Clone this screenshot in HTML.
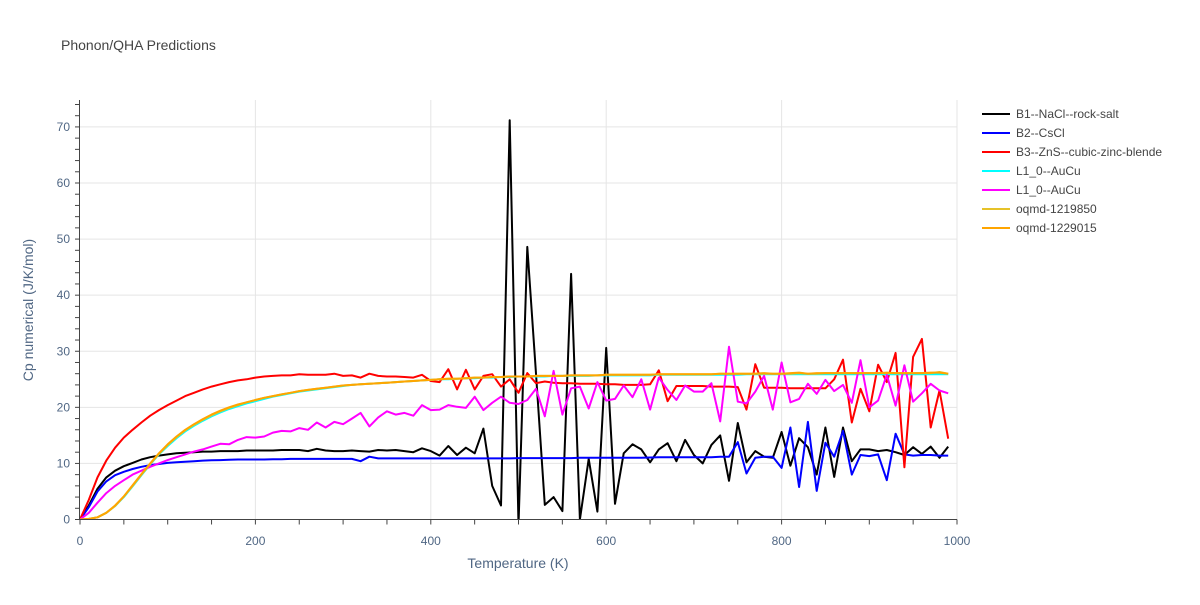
<!DOCTYPE html>
<html><head><meta charset="utf-8"><style>
body{margin:0;background:#fff;font-family:"Liberation Sans",Arial,sans-serif}
svg text{font-family:"Liberation Sans",Arial,sans-serif}
</style></head><body>
<svg id="chart" width="1200" height="600" xmlns="http://www.w3.org/2000/svg">
<rect width="1200" height="600" fill="#fff"/>
<text x="61" y="50" font-size="14" fill="#444">Phonon/QHA Predictions</text>
<g id="grid"></g>
<g id="series"></g>
<g id="axes"></g>
<text x="518" y="568" font-size="14" fill="#506784" text-anchor="middle">Temperature (K)</text>
<text transform="translate(33,310) rotate(-90)" font-size="14" fill="#506784" text-anchor="middle">Cp numerical (J/K/mol)</text>
<g id="legend"></g>
</svg>
<script>
const temps = [];
for (let t = 0; t <= 990; t += 10) temps.push(t);
const seriesNames = ["B1--NaCl--rock-salt","B2--CsCl","B3--ZnS--cubic-zinc-blende","L1_0--AuCu","L1_0--AuCu","oqmd-1219850","oqmd-1229015"];
const seriesColors = ["#000000","#0000ff","#ff0000","#00ffff","#ff00ff","#e6c229","#ffa500"];
const b1 = [0,2.5,5.5,7.5,8.7,9.5,10.1,10.7,11.1,11.4,11.6,11.8,11.9,12.0,12.1,12.1,12.2,12.2,12.2,12.3,12.3,12.3,12.3,12.4,12.4,12.4,12.2,12.6,12.3,12.2,12.2,12.3,12.2,12.1,12.4,12.3,12.4,12.2,12.0,12.7,12.2,11.4,13.1,11.5,12.8,11.8,16.2,6.0,2.5,71.2,-1,48.6,26,2.6,4.0,1.5,43.8,0.0,10.8,1.4,30.6,2.8,11.8,13.4,12.5,10.2,12.5,13.6,10.4,14.2,11.5,10.0,13.3,15.0,6.9,17.2,10.2,12.2,11.2,11.0,15.6,9.6,14.5,12.9,8.0,16.4,7.6,16.4,10.4,12.5,12.5,12.2,12.4,12.0,11.5,12.9,11.7,13.0,11.0,13.0];
const b2 = [0,2.2,5.0,6.8,7.9,8.5,9.0,9.4,9.7,9.9,10.1,10.2,10.3,10.4,10.5,10.55,10.6,10.65,10.7,10.7,10.7,10.7,10.75,10.75,10.8,10.8,10.8,10.8,10.8,10.8,10.8,10.8,10.4,11.2,10.9,10.9,10.9,10.9,10.9,10.9,10.9,10.9,10.9,10.9,10.9,10.9,10.9,10.9,10.9,10.9,10.95,10.95,10.95,10.95,10.95,10.95,10.95,11.0,11.0,11.0,11.0,11.0,11.0,11.0,11.0,11.05,11.1,11.1,11.1,11.1,11.1,11.1,11.1,11.2,11.2,13.8,8.2,11.0,11.2,11.2,9.2,16.4,5.8,17.4,5.1,13.7,11.2,15.8,8.0,11.5,11.3,11.6,7.0,15.3,11.6,11.4,11.5,11.5,11.4,11.4];
const b3 = [0,3.5,7.5,10.5,12.8,14.6,16.0,17.3,18.5,19.5,20.4,21.2,22.0,22.6,23.2,23.7,24.1,24.5,24.8,25.0,25.3,25.5,25.6,25.7,25.7,25.9,25.8,25.8,25.8,26.0,25.6,25.7,25.3,26.0,25.6,25.5,25.5,25.4,25.3,25.8,24.7,24.5,26.8,23.2,26.7,23.2,25.6,25.9,23.7,25.0,22.6,26.1,24.3,24.6,24.4,24.3,24.3,24.2,24.2,24.2,24.1,24.1,24.0,24.0,24.0,24.1,26.6,21.1,23.8,23.8,23.8,23.8,23.7,23.7,23.7,23.6,19.6,27.7,23.5,23.5,23.5,23.4,23.4,23.4,23.4,23.4,25.0,28.5,17.3,23.3,19.3,27.6,24.5,29.7,9.3,29.0,32.2,16.4,23.0,14.4];
const l10a = [0,0.1,0.4,1.2,2.4,4.0,5.9,7.9,9.8,11.6,13.1,14.5,15.7,16.7,17.6,18.4,19.1,19.7,20.2,20.7,21.1,21.5,21.9,22.2,22.5,22.8,23.0,23.2,23.4,23.6,23.8,24.0,24.1,24.2,24.3,24.4,24.5,24.6,24.7,24.8,24.9,25.0,25.0,25.1,25.2,25.2,25.3,25.3,25.4,25.4,25.5,25.5,25.5,25.5,25.6,25.6,25.6,25.6,25.6,25.7,25.7,25.7,25.7,25.7,25.7,25.7,25.8,25.8,25.8,25.8,25.8,25.8,25.8,25.8,25.8,25.8,25.9,25.9,25.9,25.9,25.9,25.9,25.9,25.9,25.9,25.9,25.9,25.9,25.9,25.9,25.9,25.9,25.9,25.9,25.9,25.9,25.9,25.9,25.9,25.9];
const l10b = [0,1.2,3.0,4.7,6.0,7.0,8.0,8.7,9.4,10.0,10.6,11.1,11.6,12.1,12.5,13.0,13.5,13.4,14.2,14.7,14.6,14.8,15.5,15.8,15.7,16.3,16.0,17.3,16.4,17.4,17.0,18.0,19.0,16.6,18.2,19.3,18.7,19.0,18.5,20.4,19.5,19.6,20.4,20.1,19.9,21.9,19.5,20.8,21.9,20.8,20.6,21.3,23.3,18.4,26.5,18.7,23.4,23.7,19.8,24.5,21.2,21.5,23.9,21.8,25.0,19.6,25.3,23.1,21.3,23.9,22.8,22.8,24.3,17.5,30.8,21.0,20.7,22.8,25.6,19.6,28.0,20.9,21.5,24.2,22.4,24.9,22.9,24.0,20.8,28.4,20.0,21.2,25.8,20.3,27.5,21.0,22.5,24.2,23.0,22.5];
const oq1 = [0,0.1,0.4,1.2,2.4,4.1,6.0,8.0,9.9,11.7,13.3,14.7,15.9,16.9,17.8,18.6,19.3,19.9,20.4,20.9,21.3,21.7,22.0,22.3,22.6,22.9,23.1,23.3,23.5,23.7,23.9,24.0,24.1,24.2,24.3,24.4,24.5,24.6,24.7,24.8,24.9,25.0,25.1,25.1,25.2,25.3,25.3,25.4,25.4,25.5,25.5,25.5,25.6,25.6,25.6,25.6,25.7,25.7,25.7,25.7,25.8,25.8,25.8,25.8,25.8,25.8,25.9,25.9,25.9,25.9,25.9,25.9,25.9,26.0,26.0,26.0,26.0,26.0,26.0,26.0,26.0,26.0,26.1,26.0,26.0,26.1,26.1,26.1,26.1,26.1,26.1,26.1,26.1,26.1,26.1,26.1,26.1,26.1,26.3,26.0];
const oq2 = [0,0.1,0.4,1.2,2.5,4.1,6.1,8.1,10.0,11.8,13.4,14.8,16.0,17.0,17.9,18.7,19.4,20.0,20.5,20.9,21.3,21.7,22.0,22.3,22.6,22.9,23.1,23.3,23.5,23.7,23.9,24.0,24.1,24.2,24.3,24.4,24.5,24.6,24.7,24.8,24.9,25.0,25.1,25.1,25.2,25.3,25.3,25.4,25.4,25.5,25.5,25.5,25.6,25.6,25.6,25.6,25.7,25.7,25.7,25.7,25.8,25.8,25.8,25.8,25.8,25.8,25.9,25.9,25.9,25.9,25.9,25.9,25.9,26.0,26.0,26.0,26.0,26.0,26.1,26.0,26.0,26.1,26.2,26.0,26.1,26.1,26.1,26.1,26.1,26.1,26.1,26.1,26.2,26.1,26.1,26.1,26.1,26.2,26.2,26.0];
const allSeries = [b1,b2,b3,l10a,l10b,oq1,oq2];
const xTicks = [0,200,400,600,800,1000];
const yTicks = [0,10,20,30,40,50,60,70];

const X0=80,X1=957,Y0=519.5,YTOP=100,YMAX=74.8;
const xs = v => X0 + (v/1000)*(X1-X0);
const ys = v => Y0 - (v/YMAX)*(Y0-YTOP);
const NS="http://www.w3.org/2000/svg";
function mk(tag, attrs, parent){const e=document.createElementNS(NS,tag);for(const k in attrs)e.setAttribute(k,attrs[k]);parent.appendChild(e);return e;}
const grid=document.getElementById('grid'), axes=document.getElementById('axes'), ser=document.getElementById('series'), leg=document.getElementById('legend');

xTicks.forEach(t=>{
  if(t>0){const g=mk('line',{x1:xs(t),x2:xs(t),y1:YTOP,y2:Y0,stroke:'#e5e5e5','stroke-width':1},grid);
  
  }
  const tx=mk('text',{x:xs(t),y:545,'font-size':12,fill:'#506784','text-anchor':'middle'},axes);
  tx.textContent=t;
  
  
});
yTicks.forEach(t=>{
  if(t>0){const g=mk('line',{x1:X0,x2:X1,y1:ys(t),y2:ys(t),stroke:'#e5e5e5','stroke-width':1},grid);
  
  }
  const tx=mk('text',{x:70,y:ys(t)+4,'font-size':12,fill:'#506784','text-anchor':'end'},axes);
  tx.textContent=t;
  
  
});
for(let t=0;t<=1000;t+=50){mk('line',{x1:xs(t),x2:xs(t),y1:Y0,y2:Y0+5,stroke:'#444','stroke-width':1},axes);}
for(let v=0;v<=74;v+=2){mk('line',{x1:X0-5,x2:X0,y1:ys(v),y2:ys(v),stroke:'#444','stroke-width':1},axes);}
const xa=mk('line',{x1:X0,x2:X1,y1:Y0,y2:Y0,stroke:'#444','stroke-width':1},axes);


const ya=mk('line',{x1:X0-0.5,x2:X0-0.5,y1:YTOP,y2:Y0,stroke:'#444','stroke-width':1},axes);



const clip=mk('clipPath',{id:'pc'},ser);
mk('rect',{x:X0,y:YTOP,width:X1-X0,height:Y0-YTOP},clip);
allSeries.forEach((arr,i)=>{
  const d=arr.map((v,j)=>(j?'L':'M')+xs(temps[j]).toFixed(1)+','+ys(v).toFixed(1)).join(' ');
  const p=mk('path',{d:d,fill:'none',stroke:seriesColors[i],'stroke-width':2,'clip-path':'url(#pc)','stroke-linejoin':'round'},ser);
  
  
});
seriesNames.forEach((n,i)=>{
  const y=114+i*19;
  const l=mk('line',{x1:982,x2:1010,y1:y,y2:y,stroke:seriesColors[i],'stroke-width':2},leg);
  
  
  const t=mk('text',{x:1016,y:y+4,'font-size':12,fill:'#444'},leg);
  t.textContent=n;
  
  
});
</script>
</body></html>
